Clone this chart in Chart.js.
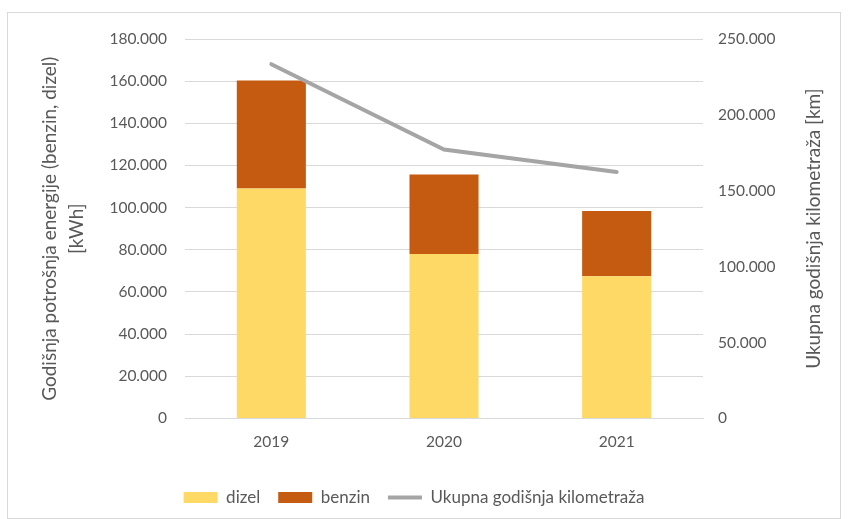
<!DOCTYPE html>
<html>
<head>
<meta charset="utf-8">
<script src="https://cdn.jsdelivr.net/npm/chart.js@4"></script>
<style>
  html, body { margin: 0; padding: 0; background: #fff; }
  #wrap { position: absolute; left: 7px; top: 12px; width: 834px; height: 507px; border: 1px solid #d9d9d9; box-sizing: border-box; }
  canvas { display: block; }
</style>
</head>
<body>
<div id="wrap"><canvas id="chart"></canvas></div>
<script>
// Years and series values
const years = ['2019', '2020', '2021'];
const dizel = [109100, 78000, 67400];
const benzin = [51200, 37700, 31000];
const kilometraza = [233400, 177200, 162300];

const fmt = v => v === 0 ? '0' : v.toLocaleString('de-DE');
const textColor = '#595959';
const fontFamily = 'Lato, "Open Sans", sans-serif';
const font = { family: fontFamily, size: 15.5 };
const rightTitle = 'Ukupna godišnja kilometraža [km]';

// right axis title reads bottom-to-top, like the left one
const rightTitlePlugin = {
    id: 'rightTitle',
    afterDraw(chart) {
        const s = chart.scales.y2;
        const c = chart.ctx;
        c.save();
        c.translate(s.right + 22, (s.top + s.bottom) / 2);
        c.rotate(-Math.PI / 2);
        c.fillStyle = textColor;
        c.font = '19px ' + fontFamily;
        c.textAlign = 'center';
        c.textBaseline = 'middle';
        c.fillText(rightTitle, 0, 0);
        c.restore();
    }
};

const ctx = document.getElementById('chart').getContext('2d');
const chart = new Chart(ctx, {
    data: {
        labels: years,
        datasets: [
            {
                type: 'line',
                label: 'Ukupna godišnja kilometraža',
                data: kilometraza,
                yAxisID: 'y2',
                borderColor: '#A5A5A5',
                backgroundColor: '#A5A5A5',
                borderWidth: 4,
                borderCapStyle: 'round',
                pointRadius: 0,
                pointStyle: 'line',
                order: 0,
            },
            {
                type: 'bar',
                label: 'dizel',
                data: dizel,
                backgroundColor: '#FFD966',
                yAxisID: 'y',
                stack: 's',
                barPercentage: 0.8,
                categoryPercentage: 0.5,
                pointStyle: 'rect',
                order: 1,
            },
            {
                type: 'bar',
                label: 'benzin',
                data: benzin,
                backgroundColor: '#C55A11',
                yAxisID: 'y',
                stack: 's',
                barPercentage: 0.8,
                categoryPercentage: 0.5,
                pointStyle: 'rect',
                order: 1,
            },
        ]
    },
    options: {
        responsive: true,
        maintainAspectRatio: false,
        animation: false,
        layout: { padding: { left: 28, right: 48, top: 26, bottom: 2 } },
        scales: {
            x: {
                stacked: true,
                grid: { display: false },
                border: { color: '#d9d9d9' },
                ticks: { color: textColor, font: font, padding: 6 },
                afterFit: scale => { scale.height += 14; },
            },
            y: {
                stacked: true,
                position: 'left',
                min: 0,
                max: 180000,
                ticks: { stepSize: 20000, color: textColor, font: font, padding: 18, callback: fmt },
                grid: { color: '#d9d9d9', drawTicks: false },
                border: { display: false },
                title: {
                    display: true,
                    text: ['Godišnja potrošnja energije (benzin, dizel)', '[kWh]'],
                    color: textColor,
                    font: { family: fontFamily, size: 19, lineHeight: 1.45 },
                    padding: { top: 0, bottom: 4 },
                },
                afterFit: scale => { scale.width = 149; scale.paddingTop = 0; scale.paddingBottom = 0; },
            },
            y2: {
                position: 'right',
                min: 0,
                max: 250000,
                ticks: { stepSize: 50000, color: textColor, font: font, padding: 15, callback: fmt },
                grid: { display: false, drawTicks: false },
                border: { display: false },
                afterFit: scale => { scale.width = 89; scale.paddingTop = 0; scale.paddingBottom = 0; },
            },
        },
        plugins: {
            legend: {
                position: 'bottom',
                labels: {
                    color: textColor,
                    font: { family: fontFamily, size: 17 },
                    usePointStyle: true,
                    pointStyleWidth: 34,
                    boxHeight: 11,
                    padding: 18,
                    sort: (a, b) => a.datasetIndex === 0 ? 1 : (b.datasetIndex === 0 ? -1 : a.datasetIndex - b.datasetIndex),
                },
            },
            tooltip: { enabled: false },
        },
    },
    plugins: [rightTitlePlugin],
});
</script>
</body>
</html>
